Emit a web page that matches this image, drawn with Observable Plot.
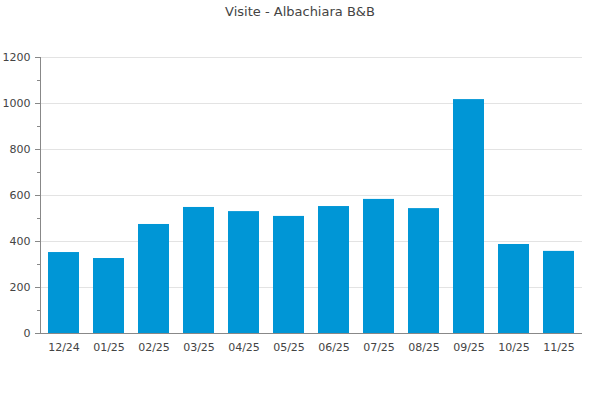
<!DOCTYPE html>
<html>
<head>
<meta charset="utf-8">
<script src="https://cdn.jsdelivr.net/npm/d3@7"></script>
<script src="https://cdn.jsdelivr.net/npm/@observablehq/plot@0.6"></script>
<style>
  html, body { margin: 0; padding: 0; background: #fff; }
  #title { width: 600px; height: 24px; line-height: 24px; text-align: center;
           font-family: "DejaVu Sans", sans-serif; font-size: 13px; color: #444; }
</style>
</head>
<body>
<div id="title">Visite - Albachiara B&amp;B</div>
<div id="chart"></div>
<script>
const months = ["12/24","01/25","02/25","03/25","04/25","05/25","06/25","07/25","08/25","09/25","10/25","11/25"];
const visits = [352, 326, 474, 548, 530, 509, 552, 583, 543, 1017, 387, 357];
const majorTicks = [0, 200, 400, 600, 800, 1000, 1200];
const minorTicks = [100, 300, 500, 700, 900, 1100];

const data = months.map((m, i) => ({month: m, value: visits[i]}));

const chart = Plot.plot({
  width: 600,
  height: 376,
  marginTop: 33,
  marginBottom: 67,
  marginLeft: 40,
  marginRight: 18,
  style: {fontFamily: "DejaVu Sans, sans-serif", fontSize: "11px", color: "#444", background: "#fff"},
  x: {domain: months, paddingInner: 0.31, paddingOuter: 0.16, label: null},
  y: {domain: [0, 1200], label: null},
  marks: [
    Plot.gridY(majorTicks.filter(d => d > 0), {stroke: "#e3e3e3", strokeOpacity: 1}),
    Plot.barY(data, {x: "month", y: "value", fill: "#0096d6"}),
    Plot.axisY(majorTicks, {tickSize: 5, tickPadding: 5, tickFormat: d => String(d), stroke: "#888", fill: "#444", fontSize: 11}),
    Plot.axisY(minorTicks, {tickSize: 3, text: null, stroke: "#888"}),
    Plot.axisX({tickSize: 0, tickPadding: 10, fill: "#444", fontSize: 11}),
    Plot.frame({anchor: "left", stroke: "#888"}),
    Plot.ruleY([0], {stroke: "#888"})
  ]
});
document.getElementById("chart").appendChild(chart);
</script>
</body>
</html>
